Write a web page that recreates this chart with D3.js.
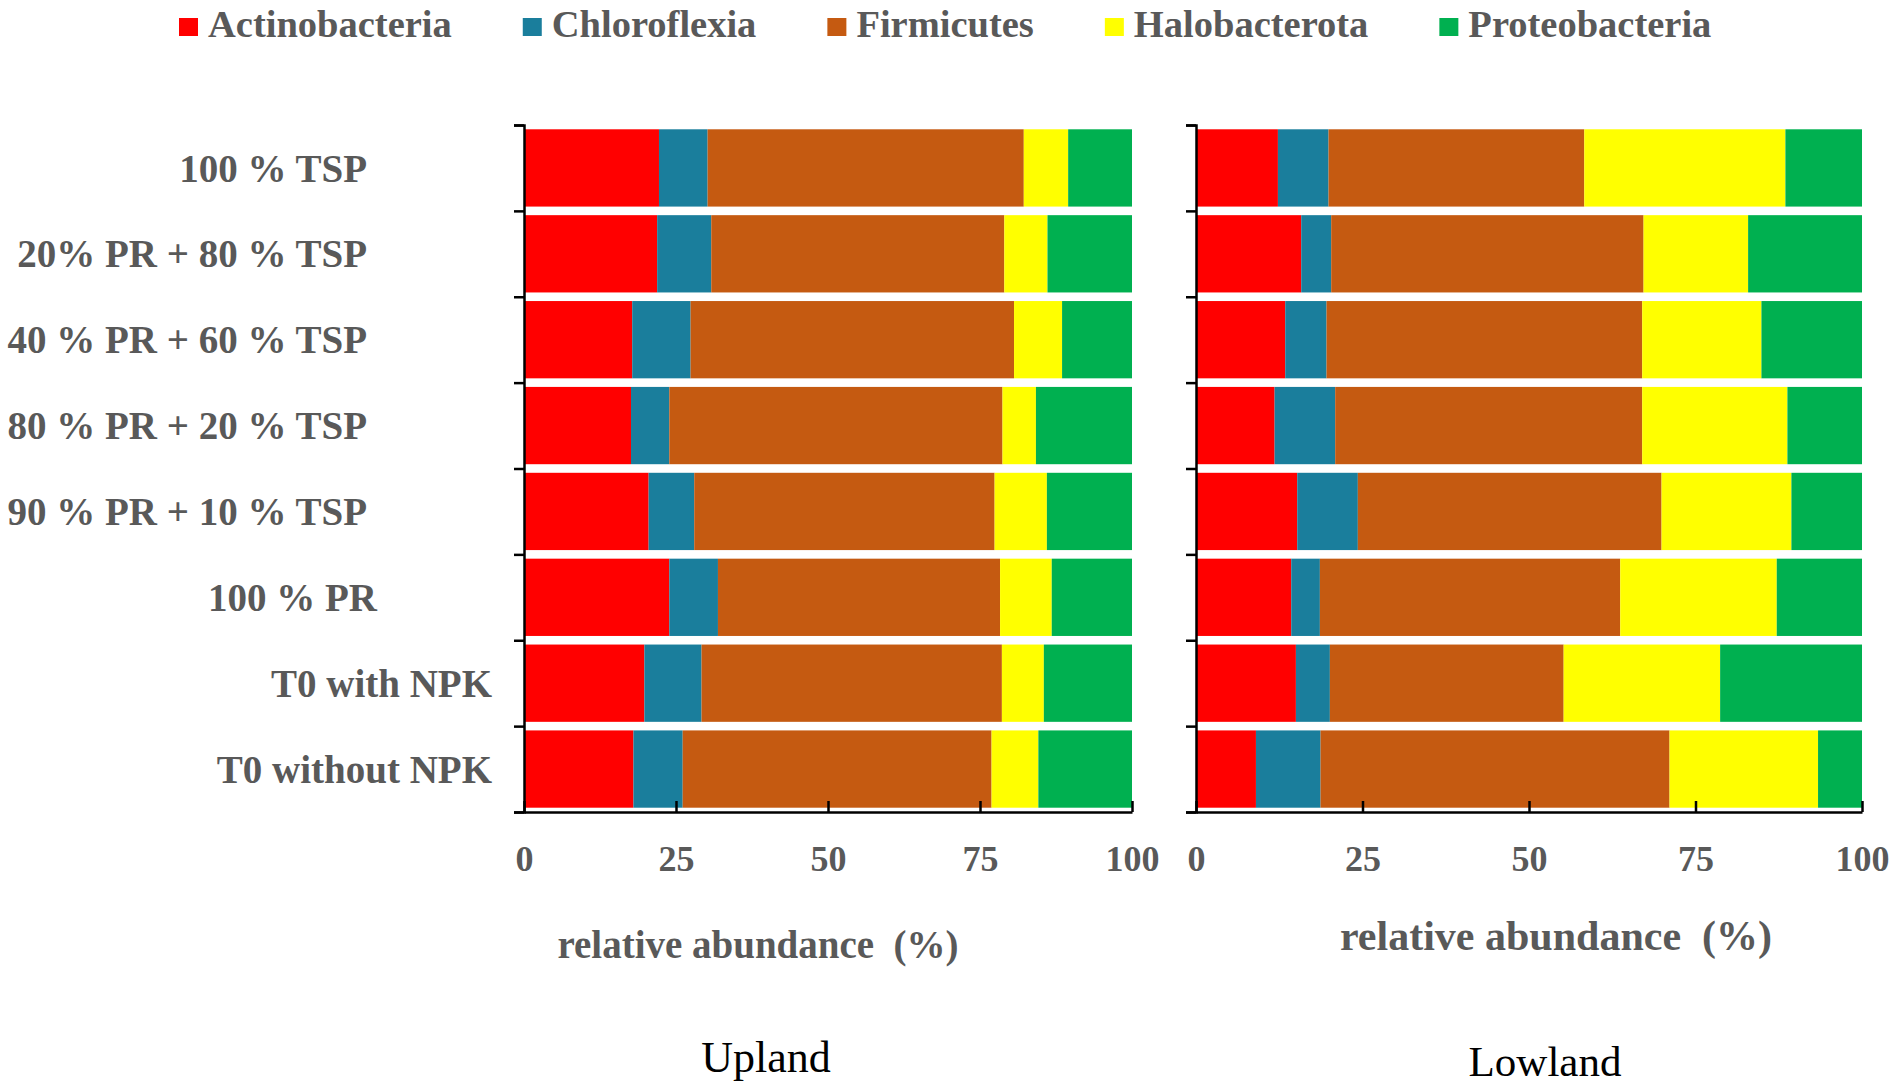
<!DOCTYPE html>
<html>
<head>
<meta charset="utf-8">
<script src="https://cdnjs.cloudflare.com/ajax/libs/d3/7.8.5/d3.min.js"></script>
<style>
  html, body { margin: 0; padding: 0; background: #fff; }
  svg { display: block; }
  text { font-family: "Liberation Serif", "Times New Roman", serif; }
</style>
</head>
<body>
<div id="plot"></div>
<script>
// treatments, top to bottom
var categories = [
	'100 % TSP',
	'20% PR + 80 % TSP',
	'40 % PR + 60 % TSP',
	'80 % PR + 20 % TSP',
	'90 % PR + 10 % TSP',
	'100 % PR',
	'T0 with NPK',
	'T0 without NPK'
];

var phyla = ['Actinobacteria', 'Chloroflexia', 'Firmicutes', 'Halobacterota', 'Proteobacteria'];
var phylaColors = ['#ff0000', '#1a7e9c', '#c55a11', '#ffff00', '#00b050'];

// relative abundance (%) - Upland
var uplandActinobacteria = [22.2, 21.9, 17.8, 17.6, 20.5, 23.9, 19.8, 18.0];
var uplandChloroflexia   = [ 8.0,  8.9,  9.6,  6.3,  7.5,  8.0,  9.4,  8.1];
var uplandFirmicutes     = [52.0, 48.2, 53.2, 54.8, 49.4, 46.4, 49.4, 50.8];
var uplandHalobacterota  = [ 7.3,  7.1,  7.9,  5.5,  8.6,  8.5,  6.9,  7.7];
var uplandProteobacteria = [10.5, 13.9, 11.5, 15.8, 14.0, 13.2, 14.5, 15.4];

// relative abundance (%) - Lowland
var lowlandActinobacteria = [12.3, 15.8, 13.4, 11.8, 15.2, 14.3, 15.0,  9.0];
var lowlandChloroflexia   = [ 7.6,  4.5,  6.2,  9.1,  9.1,  4.3,  5.1,  9.7];
var lowlandFirmicutes     = [38.4, 46.9, 47.4, 46.1, 45.6, 45.1, 35.1, 52.4];
var lowlandHalobacterota  = [30.2, 15.7, 17.9, 21.8, 19.5, 23.5, 23.5, 22.3];
var lowlandProteobacteria = [11.5, 17.1, 15.1, 11.2, 10.6, 12.8, 21.3,  6.6];

var xTicks = [0, 25, 50, 75, 100];

function buildRows(cols) {
	return categories.map(function(c, i) {
		var row = {category: c};
		phyla.forEach(function(p, j) { row[p] = cols[j][i]; });
		return row;
	});
}

var uplandRows = buildRows([uplandActinobacteria, uplandChloroflexia, uplandFirmicutes, uplandHalobacterota, uplandProteobacteria]);
var lowlandRows = buildRows([lowlandActinobacteria, lowlandChloroflexia, lowlandFirmicutes, lowlandHalobacterota, lowlandProteobacteria]);

var W = 1902, H = 1085;
var plotTop = 125, plotBottom = 812;
var gray = '#595959';

var svg = d3.select('#plot')
	.append('svg')
	.attr('width', W)
	.attr('height', H);

var color = d3.scaleOrdinal().domain(phyla).range(phylaColors);

var y = d3.scaleBand()
	.domain(categories)
	.range([plotTop, plotBottom])
	.paddingInner(0.1)
	.paddingOuter(0.05);

// band edges for the tick marks
var yEdge = d3.scaleLinear().domain([0, categories.length]).range([plotTop, plotBottom]);

var stack = d3.stack().keys(phyla);

function drawPanel(rows, x0, x1, opts) {
	var x = d3.scaleLinear().domain([0, 100]).range([x0, x1]);
	var g = svg.append('g');

	g.selectAll('g.layer')
		.data(stack(rows))
		.enter()
		.append('g')
		.attr('class', 'layer')
		.attr('fill', function(d) { return color(d.key); })
		.selectAll('rect')
		.data(function(d) { return d; })
		.enter()
		.append('rect')
		.attr('x', function(d) { return x(d[0]); })
		.attr('width', function(d) { return x(d[1]) - x(d[0]); })
		.attr('y', function(d) { return y(d.data.category); })
		.attr('height', y.bandwidth());

	var yAxis = g.append('g')
		.attr('transform', 'translate(' + x0 + ',0)')
		.call(d3.axisLeft(yEdge)
			.tickValues(d3.range(categories.length + 1))
			.tickSize(10)
			.tickFormat(''));

	var xAxis = g.append('g')
		.attr('transform', 'translate(0,' + plotBottom + ')')
		.call(d3.axisBottom(x)
			.tickValues(xTicks)
			.tickSizeInner(-11)
			.tickSizeOuter(0)
			.tickPadding(33));

	[yAxis, xAxis].forEach(function(a) {
		a.selectAll('path, line').attr('stroke', '#000').attr('stroke-width', 2.5);
	});
	xAxis.selectAll('text')
		.attr('fill', gray)
		.style('font-family', '"Liberation Serif", "Times New Roman", serif')
		.style('font-weight', 'bold')
		.style('font-size', '36px');

	g.append('text')
		.attr('x', opts.titleX)
		.attr('y', opts.titleY)
		.attr('text-anchor', 'middle')
		.attr('fill', gray)
		.style('font-weight', 'bold')
		.style('font-size', opts.titleSize + 'px')
		.style('white-space', 'pre')
		.text('relative abundance  (%)');

	g.append('text')
		.attr('x', opts.siteX)
		.attr('y', opts.siteY)
		.attr('text-anchor', 'middle')
		.attr('fill', '#000')
		.style('font-size', opts.siteSize + 'px')
		.text(opts.site);
}

drawPanel(uplandRows, 524, 1132, {titleX: 758, titleY: 958, titleSize: 39, site: 'Upland', siteX: 766, siteY: 1072, siteSize: 44});
drawPanel(lowlandRows, 1196, 1862, {titleX: 1556, titleY: 950, titleSize: 42, site: 'Lowland', siteX: 1545, siteY: 1076, siteSize: 43});

// treatment labels (the last ones sit further right in the original)
var labelEnd = [367, 367, 367, 367, 367, 377, 492, 492];
svg.append('g')
	.selectAll('text')
	.data(categories)
	.enter()
	.append('text')
	.attr('x', function(d, i) { return labelEnd[i]; })
	.attr('y', function(d) { return y(d) + y.bandwidth() / 2; })
	.attr('dy', '0.35em')
	.attr('text-anchor', 'end')
	.attr('fill', gray)
	.style('font-weight', 'bold')
	.style('font-size', '39px')
	.text(function(d) { return d; });

// legend across the top
var legend = svg.append('g').attr('class', 'legend');
var lx = 179;
phyla.forEach(function(p) {
	legend.append('rect')
		.attr('x', lx)
		.attr('y', 18)
		.attr('width', 19)
		.attr('height', 18)
		.attr('fill', color(p));
	var t = legend.append('text')
		.attr('x', lx + 29)
		.attr('y', 37)
		.attr('fill', gray)
		.style('font-weight', 'bold')
		.style('font-size', '38.5px')
		.text(p);
	lx += 29 + t.node().getComputedTextLength() + 71;
});
</script>
</body>
</html>
